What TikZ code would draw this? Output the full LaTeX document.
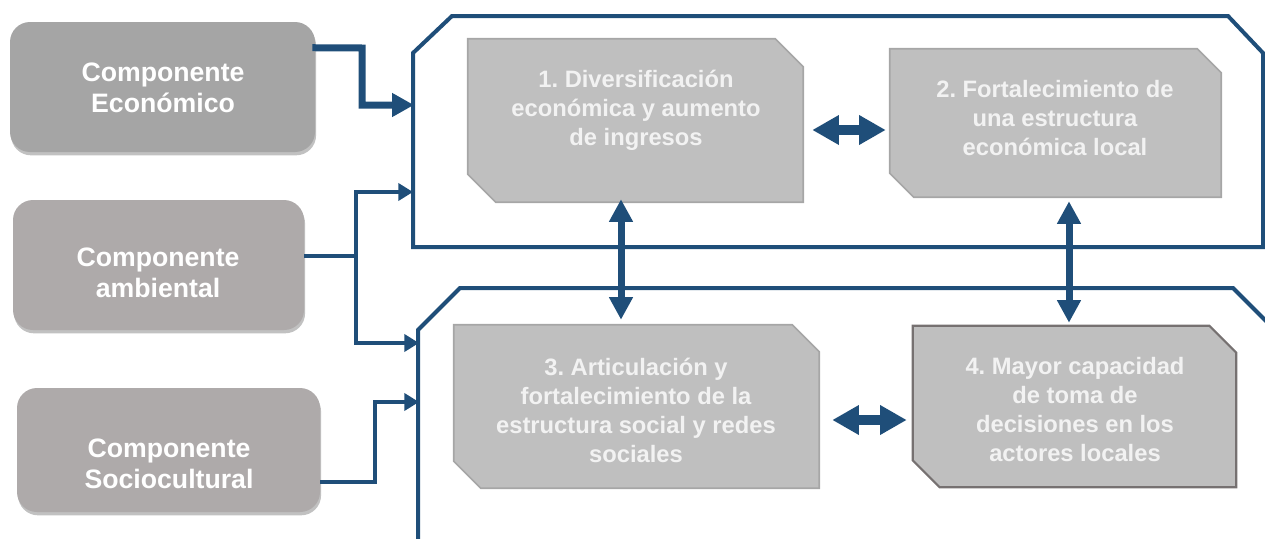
\documentclass[tikz,border=0pt]{standalone}
\usepackage{fontspec}
\setmainfont{Liberation Sans}
\usetikzlibrary{arrows.meta,calc,shadows}
\definecolor{navy}{HTML}{1F4E79}
\definecolor{ecogrey}{HTML}{A5A5A5}
\definecolor{warmgrey}{HTML}{AEAAAA}
\definecolor{boxgrey}{HTML}{BFBFBF}
\definecolor{boxedge}{HTML}{A6A6A6}
\definecolor{darkedge}{HTML}{767171}
\definecolor{txtw}{HTML}{F2F2F2}
\newcommand\chamfpath[3]{%
  \path[#3] (#1.north west) -- ($(#1.north east)+(-#2,0)$) -- ($(#1.north east)+(0,#2)$)
   -- (#1.south east) -- ($(#1.south west)+(#2,0)$) -- ($(#1.south west)+(0,-#2)$) -- cycle;}
\frenchspacing
\begin{document}
\begin{tikzpicture}[x=0.75pt,y=-0.75pt,
  compbox/.style={rectangle,rounded corners=15pt,inner sep=0pt,
    drop shadow={shadow xshift=0.8pt,shadow yshift=-2.5pt,opacity=0.35,fill=black!70}},
  comptext/.style={text=white,align=center,font=\bfseries\fontsize{20}{23.5}\selectfont},
  mainbox/.style={rectangle,inner sep=0pt,draw=none},
  chfill/.style={fill=boxgrey,draw=boxedge,line width=1.2pt},
  chfilldark/.style={fill=boxgrey,draw=darkedge,line width=1.6pt},
  maintext/.style={text=txtw,align=center,font=\bfseries\fontsize{17.8}{21.75}\selectfont},
  container/.style={draw=navy,line width=3pt,line join=miter},
  entrythick/.style={draw=navy,line width=5.25pt,line join=miter,-{Triangle[length=16.5pt,width=17pt]}},
  entrythin/.style={draw=navy,line width=3.6pt,line join=miter,-{Triangle[length=11pt,width=12.75pt]}},
  vdbl/.style={draw=navy,line width=5.25pt,{Triangle[length=17pt,width=17pt]}-{Triangle[length=17pt,width=17pt]}},
  hdbl/.style={draw=navy,line width=7.5pt,{Triangle[length=20pt,width=21pt]}-{Triangle[length=20pt,width=21pt]}}
]
\useasboundingbox (0,0) rectangle (1265,539);

% containers
\draw[container] (413,247) -- (413,53) -- (452,16) -- (1228,16) -- (1263,53) -- (1263,247) -- cycle;
\draw[container] (418,560) -- (418,330) -- (460,288) -- (1233,288) -- (1290,345);
\coordinate (inE) at (414,105);
\coordinate (inA1) at (413,192);
\coordinate (inA2) at (419,343);
\coordinate (inS) at (419,402);

% left component boxes
\node[compbox,fill=ecogrey,minimum width=228.75pt,minimum height=97.5pt] (eco) at (162.5,87) {};
\node[comptext] (ecot) at (163,88) {Componente\\Económico};
\node[compbox,fill=warmgrey,minimum width=218.25pt,minimum height=97.5pt] (amb) at (158.5,265) {};
\node[comptext] (ambt) at (158,273) {Componente\\ambiental};
\node[compbox,fill=warmgrey,minimum width=227.25pt,minimum height=93pt] (soc) at (168.5,450) {};
\node[comptext] (soct) at (169,464) {Componente\\Sociocultural};

% main boxes
\node[mainbox,minimum width=251.25pt,minimum height=122.25pt] (b1) at (635.5,120.5) {};
\chamfpath{b1}{28}{chfill}
\node[maintext] (b1t) at (636,110) {1. Diversificación\\económica y aumento\\de ingresos};
\node[mainbox,minimum width=248.25pt,minimum height=111pt] (b2) at (1055.5,123) {};
\chamfpath{b2}{24}{chfill}
\node[maintext] (b2t) at (1055,118) {2. Fortalecimiento de\\una estructura\\económica local};
\node[mainbox,minimum width=273.75pt,minimum height=122.25pt] (b3) at (636.5,406.5) {};
\chamfpath{b3}{27}{chfill}
\node[maintext] (b3t) at (636,410) {3. Articulación y\\fortalecimiento de la\\estructura social y redes\\sociales};
\node[mainbox,minimum width=242.25pt,minimum height=120.75pt] (b4) at (1074.5,406.5) {};
\chamfpath{b4}{27}{chfilldark}
\node[maintext] (b4t) at (1075,410) {4. Mayor capacidad\\de toma de\\decisiones en los\\actores locales};

% entry connectors
\draw[entrythick] ($(eco.north east)+(-3,26)$) -- (362,48) -- (362,105) -- (inE);
\draw[entrythin] ($(amb.east)+(0,-9)$) -- (356,256) -- (356,192) -- (inA1);
\draw[entrythin] (356,254) -- (356,343) -- (inA2);
\draw[entrythin] ($(soc.east)+(0,32)$) -- (375,482) -- (375,402) -- (inS);

% double arrows
\draw[hdbl] ($(b1.east)+(9,9.5)$) -- ($(b2.west)+(-4,7)$);
\draw[hdbl] ($(b3.east)+(13,13.5)$) -- ($(b4.west)+(-6,13.5)$);
\draw[vdbl] ($(b1.south)+(-14.5,-3)$) -- ($(b3.north)+(-15.5,-5)$);
\draw[vdbl] ($(b2.south)+(13.5,4)$) -- ($(b4.north)+(-5.5,-3)$);
\end{tikzpicture}
\end{document}
